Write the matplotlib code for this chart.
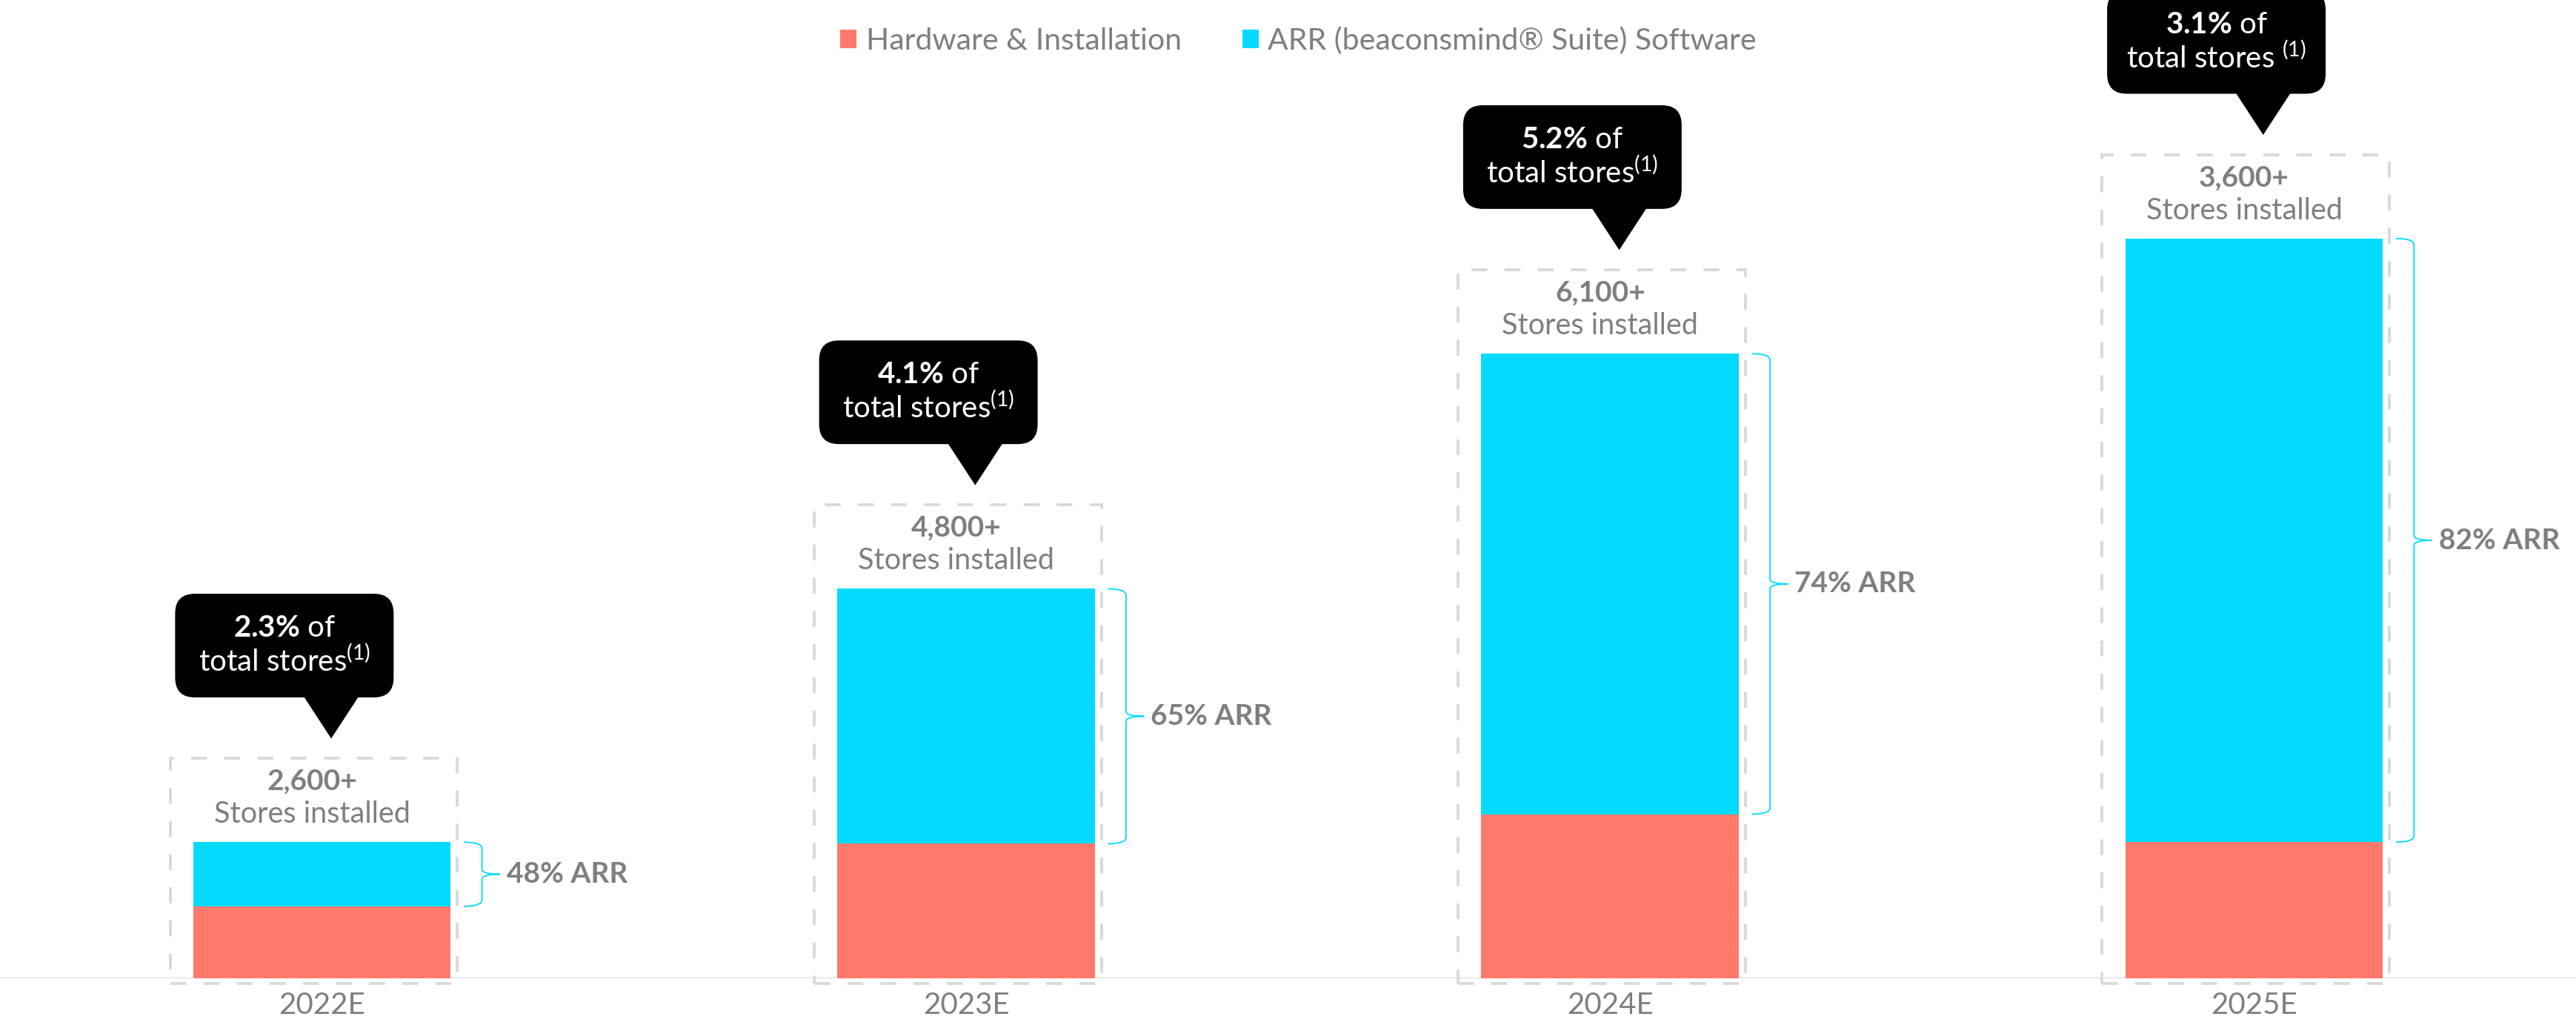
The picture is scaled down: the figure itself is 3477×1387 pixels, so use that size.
import numpy as np
import matplotlib
matplotlib.use("Agg")
import matplotlib.pyplot as plt
from matplotlib.patches import FancyBboxPatch, Polygon, Rectangle, PathPatch
from matplotlib.path import Path

# values (bar heights in arbitrary units)
years = ["2022E", "2023E", "2024E", "2025E"]
hardware = [44, 82, 100, 83]
software = [39, 155, 280, 367]
stores = ["2,600+", "4,800+", "6,100+", "3,600+"]
share = ["2.3%", "4.1%", "5.2%", "3.1%"]
arr_pct = ["48%", "65%", "74%", "82%"]

SALMON = "#FF7A6B"
CYAN = "#02DBFF"
GREY = "#7F7F7F"
DASH = "#D9D9D9"

plt.rcParams["font.family"] = ["Lato", "DejaVu Sans"]
plt.rcParams["mathtext.fontset"] = "custom"
plt.rcParams["mathtext.rm"] = "Lato"
plt.rcParams["mathtext.bf"] = "Lato:bold"
plt.rcParams["mathtext.it"] = "Lato:italic"

fig = plt.figure(figsize=(34.77, 13.87), dpi=100)
ax = fig.add_axes([0, 30 / 625, 1, 595 / 625])
ax.set_xlim(-0.5, 3.5)
ax.set_ylim(0, 595)

px = 1 / 392  # one layout pixel in x units
W = 0.4
x = np.arange(len(years))
hw = np.array(hardware)
sw = np.array(software)
tot = hw + sw

ax.bar(x, hw, W, color=SALMON, label="Hardware & Installation", zorder=3)
ax.bar(x, sw, W, bottom=hw, color=CYAN, label="ARR (beaconsmind® Suite) Software", zorder=3)
ax.axhline(0, color="#DDDDDD", lw=1.6, zorder=2)

for i in range(len(years)):
    left = x[i] - W / 2
    right = x[i] + W / 2
    top = tot[i]

    # dashed frame round each bar
    box_top = top + 51
    ax.add_patch(Rectangle((left - 14 * px, -3), W + 18 * px, box_top + 3, fill=False,
                           ec=DASH, lw=2.8, ls=(0, (5.5, 6)), clip_on=False, zorder=1))
    ax.text(x[i] - 6 * px, top + 37, stores[i], ha="center", va="center",
            fontsize=28, fontweight="bold", color=GREY)
    ax.text(x[i] - 6 * px, top + 17, "Stores installed", ha="center", va="center",
            fontsize=28.5, color=GREY)

    # curly brace over the software part
    x0, x1, xc = right + 8 * px, right + 19 * px, right + 30 * px
    t, b = top, hw[i]
    m = (t + b) / 2
    verts = [(x0, t), (x1, t), (x1, t - 4), (x1, m + 3), (x1, m), (xc, m),
             (x1, m), (x1, m - 3), (x1, b + 4), (x1, b), (x0, b)]
    codes = [Path.MOVETO, Path.CURVE3, Path.CURVE3, Path.LINETO, Path.CURVE3, Path.CURVE3,
             Path.CURVE3, Path.CURVE3, Path.LINETO, Path.CURVE3, Path.CURVE3]
    ax.add_patch(PathPatch(Path(verts, codes), fc="none", ec=CYAN, lw=1.3, zorder=3))
    ax.text(right + 34 * px, m, f"{arr_pct[i]} ARR", ha="left", va="center",
            fontsize=28, fontweight="bold", color=GREY)

    # black callout
    tip = box_top + 12
    cb = tip + 25
    ct = cb + 63
    cl = left - 11 * px
    ax.add_patch(FancyBboxPatch((cl, cb), 133 * px, 63,
                                boxstyle=f"round,pad=0,rounding_size={12 * px}",
                                mutation_aspect=392, fc="black", ec="none",
                                clip_on=False, zorder=4))
    ax.add_patch(Polygon([(left + 67 * px, cb + 1), (left + 101 * px, cb + 1),
                          (left + 84 * px, tip)], closed=True, fc="black", ec="none",
                         clip_on=False, zorder=4))
    pct = share[i].replace("%", r"\%")
    cx = cl + 66.5 * px
    ax.text(cx, ct - 21, r"$\mathbf{" + pct + "}$ of", ha="center", va="center",
            fontsize=29, color="white", zorder=5, clip_on=False)
    gap = " " if i == 3 else ""
    ax.text(cx, ct - 41, "total stores" + gap + r"$^{(1)}$", ha="center", va="center",
            fontsize=29, color="white", zorder=5, clip_on=False)

ax.set_xticks(x, years)
ax.set_yticks([])
ax.tick_params(axis="x", length=0, pad=13, labelsize=29, labelcolor=GREY)
for s in ax.spines.values():
    s.set_visible(False)

fig.legend(loc="center", bbox_to_anchor=(0.504, 0.96), ncol=2, frameon=False,
           fontsize=29.5, labelcolor=GREY, handlelength=0.55, handleheight=0.55,
           handletextpad=0.3, columnspacing=2.0)

fig.savefig("out.png", dpi=100)
